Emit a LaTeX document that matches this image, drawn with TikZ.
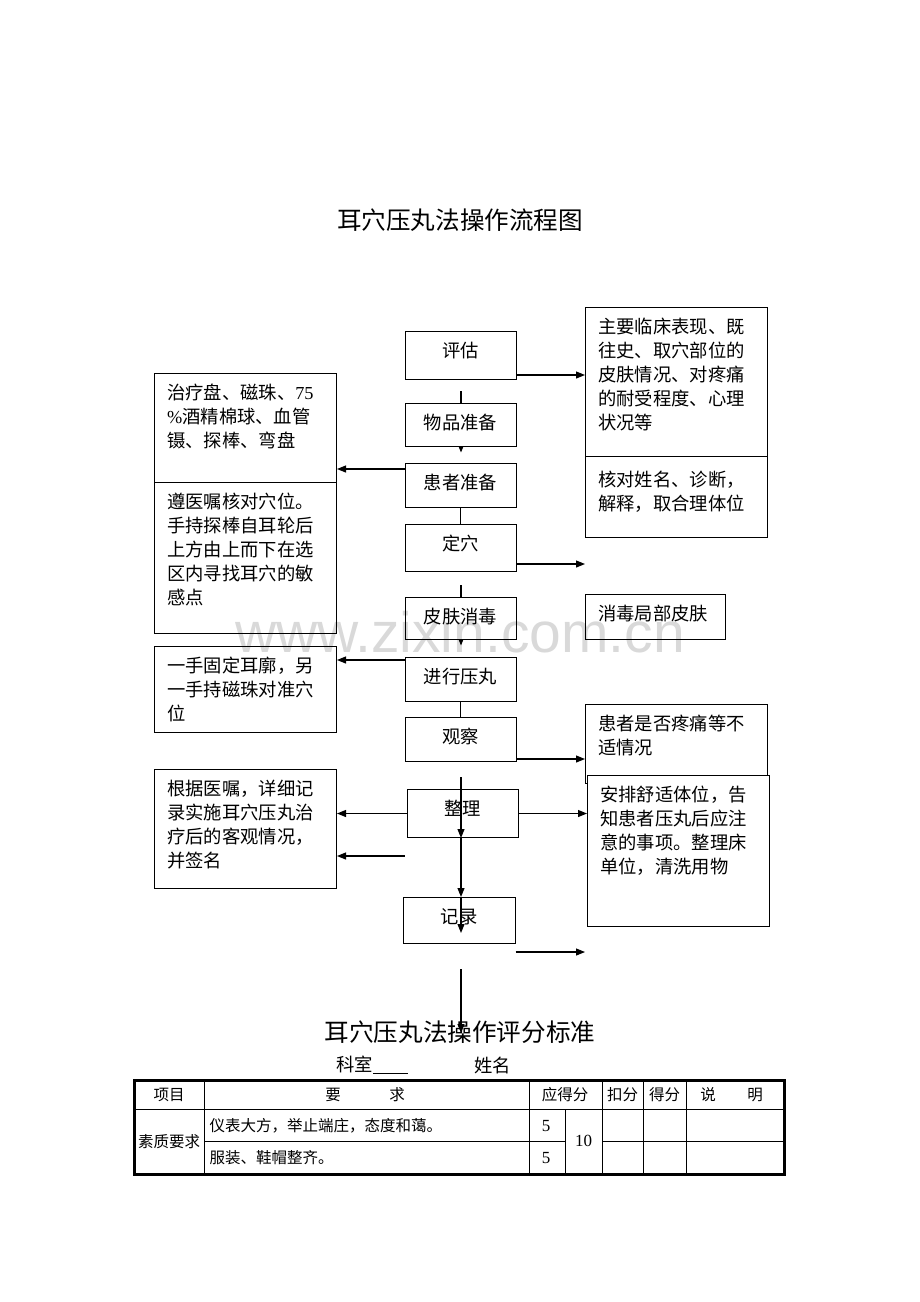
\documentclass[tikz,border=0pt]{standalone}
\usepackage{fontspec}
\setmainfont{Liberation Serif}
\newfontfamily\cjk{Noto Sans CJK SC}
\newfontfamily\wmfont{Liberation Sans}
\usetikzlibrary{arrows.meta,backgrounds}

\tikzset{
	flowpicture/.style = {
		x = 1pt,
		y = -1pt,
		arrow/.style = {
			draw,
			line width = 1.1pt,
			-{Triangle[length=9pt,width=7pt]},
		}
	},
	stepbox/.style = {
		draw,
		fill = white,
		line width = 1pt,
		anchor = north,
		minimum width = 111pt,
		inner ysep = 0pt,
		text height = 25.5pt,
		text depth = #1,
		font = \cjk\fontsize{18.3}{24}\selectfont
	},
	notebox/.style = {
		draw,
		fill = white,
		line width = 1pt,
		anchor = north west,
		minimum width = 182pt,
		minimum height = #1,
		inner sep = 0pt
	},
	notetext/.style = {
		anchor = north west,
		align = left,
		inner xsep = 13pt,
		inner ysep = 11pt,
		font = \cjk\fontsize{18.3}{24}\selectfont
	},
	titletext/.style = {
		font = \cjk\fontsize{24.6}{28}\selectfont
	},
	subtext/.style = {
		font = \cjk\fontsize{18.3}{22}\selectfont
	},
	celltext/.style = {
		font = \cjk\fontsize{15.5}{18}\selectfont
	},
	numtext/.style = {
		font = \rmfamily\fontsize{17}{18}\selectfont
	},
	wmtext/.style = {
		text = black,
		text opacity = 0.15,
		font = \wmfont\fontsize{57}{60}\selectfont
	}
}

\begin{document}
\begin{tikzpicture}[flowpicture]
	\useasboundingbox (0,0) rectangle (920,1302);
	\coordinate (spine) at (461,0);

	\node[titletext] (flowtitle) at (460,220) {耳穴压丸法操作流程图};

	\node[stepbox=22.5pt] (assess) at (460.5,331) {评估};
	\node[stepbox=17.5pt] (items) at (460.5,403) {物品准备};
	\node[stepbox=18.5pt] (ptprep) at (460.5,463) {患者准备};
	\node[stepbox=21.5pt] (locate) at (460.5,524) {定穴};
	\node[stepbox=16.5pt] (disinfect) at (460.5,597) {皮肤消毒};
	\node[stepbox=18.5pt] (press) at (460.5,657) {进行压丸};
	\node[stepbox=18.5pt] (observe) at (460.5,717) {观察};
	\node[stepbox=22.5pt] (tidy) at (462.5,789) {整理};
	\node[stepbox=20.5pt, minimum width=112pt] (record) at (459,897) {记录};

	\node[notebox=109pt] (itembox) at (154,373) {};
	\node[notetext] (itemtext) at (itembox.north west) {治疗盘、磁珠、{\rmfamily 75}\\{\rmfamily\%}酒精棉球、血管\\镊、探棒、弯盘};
	\node[notebox=151pt] (locbox) at (154,482) {};
	\node[notetext] (loctext) at (locbox.north west) {遵医嘱核对穴位。\\手持探棒自耳轮后\\上方由上而下在选\\区内寻找耳穴的敏\\感点};
	\node[notebox=86pt] (pressbox) at (154,646) {};
	\node[notetext] (presstext) at (pressbox.north west) {一手固定耳廓，另\\一手持磁珠对准穴\\位};
	\node[notebox=119pt] (recbox) at (154,769) {};
	\node[notetext] (rectext) at (recbox.north west) {根据医嘱，详细记\\录实施耳穴压丸治\\疗后的客观情况，\\并签名};

	\node[notebox=149pt] (histbox) at (585,307) {};
	\node[notetext] (histtext) at (histbox.north west) {主要临床表现、既\\往史、取穴部位的\\皮肤情况、对疼痛\\的耐受程度、心理\\状况等};
	\node[notebox=81pt] (checkbox) at (585,456) {};
	\node[notetext, inner ysep=15pt] (checktext) at (checkbox.north west) {核对姓名、诊断，\\解释，取合理体位};
	\node[notebox=45pt, minimum width=140pt] (skinbox) at (585,594) {};
	\node[notetext] (skintext) at (skinbox.north west) {消毒局部皮肤};
	\node[notebox=79pt] (painbox) at (585,704) {};
	\node[notetext] (paintext) at (painbox.north west) {患者是否疼痛等不\\适情况};
	\node[notebox=151pt] (carebox) at (587,775) {};
	\node[notetext] (caretext) at (carebox.north west) {安排舒适体位，告\\知患者压丸后应注\\意的事项。整理床\\单位，清洗用物};

	\begin{scope}[on background layer]
		\fill[white] (0,0) rectangle (920,1302);
		\draw[arrow] (spine |- 0,391) -- (spine |- 0,452.5);
		\draw[arrow] (spine |- 0,585) -- (spine |- 0,645.5);
		\draw[line width=1.1pt] (ptprep) -- (locate);
		\draw[line width=1.1pt] (press) -- (observe);
	\end{scope}

	\begin{scope}[every path/.style = arrow]
		\path (assess.east |- 0,375) -- (histbox.west |- 0,375);
		\path (ptprep.west |- 0,469) -- (itembox.east |- 0,469);
		\path (locate.east |- 0,564) -- (histbox.west |- 0,564);
		\path (press.west |- 0,660) -- (pressbox.east |- 0,660);
		\path (observe.east |- 0,759) -- (painbox.west |- 0,759);
		\path (tidy.west) -- (recbox.east |- tidy.west);
		\path (ptprep.west |- 0,856) -- (recbox.east |- 0,856);
		\path (tidy.east) -- (carebox.west |- tidy.east);
		\path (record.east |- 0,952) -- (histbox.west |- 0,952);
		\path (spine |- 0,777) -- (spine |- tidy.south);
		\path (spine |- tidy.south) -- (spine |- record.north);
		\path (spine |- record.north) -- (spine |- 0,933);
		\path (spine |- 0,969) -- (spine |- 0,1033);
	\end{scope}

	\node[titletext] (scoretitle) at (460,1032) {耳穴压丸法操作评分标准};
	\node[subtext, anchor=west] (dept) at (333,1065) {科室\rule[-2.5pt]{35pt}{1.2pt}};
	\node[subtext] (staff) at (492.5,1065) {姓名};

	\foreach \colx in {204,529,602,643,686}
		\draw[line width=1pt] (\colx,1080) -- (\colx,1174);
	\draw[line width=1pt] (565,1109) -- (565,1174);
	\draw[line width=1pt] (134,1109) -- (784,1109);
	\draw[line width=1pt] (204,1141) -- (565,1141) (602,1141) -- (784,1141);
	\draw[line width=3pt] (134,1080) rectangle (784,1174);

	\node[celltext] (hitem) at (169,1095) {项目};
	\node[celltext] (hreq1) at (333,1095) {要};
	\node[celltext] (hreq2) at (397,1095) {求};
	\node[celltext] (hfull) at (565,1095) {应得分};
	\node[celltext] (hminus) at (622.5,1095) {扣分};
	\node[celltext] (hgot) at (664.5,1095) {得分};
	\node[celltext] (hnote1) at (708,1095) {说};
	\node[celltext] (hnote2) at (755,1095) {明};
	\node[celltext] (quality) at (169,1142) {素质要求};
	\node[celltext, anchor=west] (req1) at (206,1126) {仪表大方，举止端庄，态度和蔼。};
	\node[celltext, anchor=west] (req2) at (206,1158) {服装、鞋帽整齐。};
	\node[numtext] (pts1) at (546,1126) {5};
	\node[numtext] (pts2) at (546,1158) {5};
	\node[numtext] (ptsum) at (583.5,1141) {10};

	\node[wmtext] (wm) at (460,632) {www.zixin.com.cn};
\end{tikzpicture}
\end{document}
